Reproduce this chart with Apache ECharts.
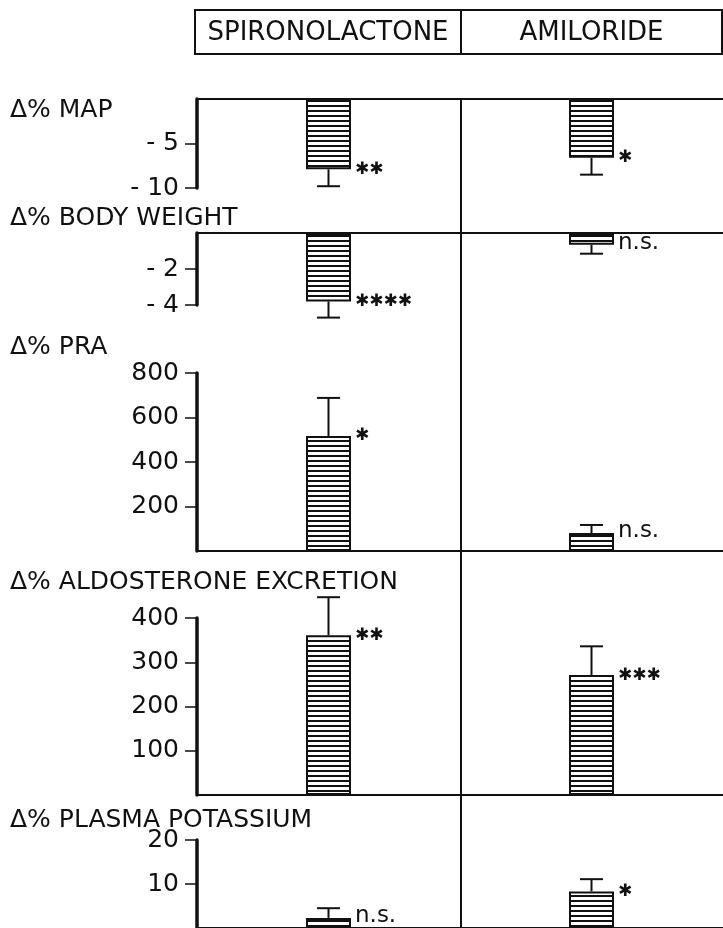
<!DOCTYPE html>
<html>
<head>
<meta charset="utf-8">
<script src="https://cdn.jsdelivr.net/npm/echarts@6/dist/echarts.min.js"></script>
<style>
html,body{margin:0;padding:0;background:#fff;}
#chart{width:723px;height:928px;}
</style>
</head>
<body>
<div id="chart"></div>
<script>
// 药物分组
var drugs = ['SPIRONOLACTONE', 'AMILORIDE'];

// 各指标：均值、标准误、显著性
var mapVals = [-7.9, -6.6];
var mapErr = [1.9, 1.9];
var mapSig = ['✱✱', '✱'];
var mapTicks = [-10, -5];

var bwVals = [-3.8, -0.65];
var bwErr = [0.9, 0.5];
var bwSig = ['✱✱✱✱', 'n.s.'];
var bwTicks = [-4, -2];

var praVals = [517, 81];
var praErr = [171, 36];
var praSig = ['✱', 'n.s.'];
var praTicks = [200, 400, 600, 800];

var aldoVals = [361, 271];
var aldoErr = [86, 65];
var aldoSig = ['✱✱', '✱✱✱'];
var aldoTicks = [100, 200, 300, 400];

var kVals = [2.3, 8.3];
var kErr = [2.2, 2.8];
var kSig = ['n.s.', '✱'];
var kTicks = [10, 20];

var titles = ['Δ% MAP', 'Δ% BODY WEIGHT', 'Δ% PRA', 'Δ% ALDOSTERONE EXCRETION', 'Δ% PLASMA POTASSIUM'];

var FONT = 'DejaVu Sans';
var INK = '#111';

// 版面
var plotLeft = 197, plotWidth = 528;
var panels = [
	{vals: mapVals, err: mapErr, sig: mapSig, ticks: mapTicks, min: -10, max: 0, interval: 5, top: 99, height: 89, titleY: 110},
	{vals: bwVals, err: bwErr, sig: bwSig, ticks: bwTicks, min: -4, max: 0, interval: 2, top: 233, height: 72, titleY: 218},
	{vals: praVals, err: praErr, sig: praSig, ticks: praTicks, min: 0, max: 800, interval: 200, top: 373, height: 178, titleY: 347},
	{vals: aldoVals, err: aldoErr, sig: aldoSig, ticks: aldoTicks, min: 0, max: 400, interval: 100, top: 618, height: 177, titleY: 582},
	{vals: kVals, err: kErr, sig: kSig, ticks: kTicks, min: 0, max: 20, interval: 10, top: 840, height: 94, titleY: 820}
];

//横线填充
function makeHatch(){
	var c = document.createElement('canvas');
	c.width = 6;
	c.height = 5;
	var ctx = c.getContext('2d');
	ctx.fillStyle = '#fff';
	ctx.fillRect(0, 0, 6, 5);
	ctx.fillStyle = INK;
	ctx.fillRect(0, 0, 6, 2);
	return c;
}
var hatch = makeHatch();
var barWidth = 45;

function errRenderer(sig){
	return function(params, api){
		var idx = api.value(0);
		var v = api.value(1);
		var e = api.value(2);
		var end = v < 0 ? v - e : v + e;
		var p0 = api.coord([idx, v]);
		var p1 = api.coord([idx, end]);
		var half = 11.5;
		var isNs = sig[params.dataIndex] === 'n.s.';
		return {
			type: 'group',
			children: [
				{type: 'line', shape: {x1: p0[0], y1: p0[1], x2: p1[0], y2: p1[1]}, style: {stroke: INK, lineWidth: 2}},
				{type: 'line', shape: {x1: p1[0] - half, y1: p1[1], x2: p1[0] + half, y2: p1[1]}, style: {stroke: INK, lineWidth: 2}},
				{type: 'text', x: p0[0] + barWidth / 2 + 4, y: p0[1] + (isNs ? -2 : 0), style: {
					text: sig[params.dataIndex], fill: INK,
					font: (isNs ? '23px ' : '17px ') + '"' + FONT + '"',
					verticalAlign: 'middle', align: 'left'
				}}
			]
		};
	};
}

var grids = [], xAxes = [], yAxes = [], series = [], graphics = [];

var $each = function(arr, fn){ for (var i = 0; i < arr.length; i++) fn(i, arr[i]); };

$each(panels, function(i, p){
	grids.push({left: plotLeft, width: plotWidth, top: p.top, height: p.height});
	xAxes.push({
		type: 'category', gridIndex: i, data: drugs,
		axisLine: {show: true, onZero: true, lineStyle: {color: INK, width: 2}},
		axisTick: {show: false}, axisLabel: {show: false}, splitLine: {show: false}
	});
	yAxes.push({
		type: 'value', gridIndex: i, min: p.min, max: p.max, interval: p.interval,
		axisLine: {show: true, lineStyle: {color: INK, width: 3.5}},
		axisTick: {show: true, length: 12, customValues: p.ticks, lineStyle: {color: INK, width: 1.5}},
		axisLabel: {
			customValues: p.ticks, margin: 18, color: INK, fontFamily: FONT, fontSize: 25,
			formatter: function(v){ return v < 0 ? '- ' + Math.abs(v) : String(v); }
		},
		splitLine: {show: false}
	});
	series.push({
		type: 'bar', xAxisIndex: i, yAxisIndex: i, barWidth: barWidth,
		data: p.vals,
		itemStyle: {color: {image: hatch, repeat: 'repeat'}, borderColor: INK, borderWidth: 2},
		z: 2
	});
	series.push({
		type: 'custom', xAxisIndex: i, yAxisIndex: i, clip: false, z: 3,
		renderItem: errRenderer(p.sig),
		data: p.vals.map(function(v, k){ return [k, v, p.err[k]]; })
	});
	graphics.push({
		type: 'text', x: 10, y: p.titleY,
		style: {text: titles[i], fill: INK, font: '25px "' + FONT + '"', verticalAlign: 'middle'}
	});
});

// 表头
var mid = plotLeft + plotWidth / 2;
graphics.push({type: 'rect', shape: {x: 195, y: 10, width: 527, height: 44}, style: {fill: 'none', stroke: INK, lineWidth: 2}});
graphics.push({type: 'line', shape: {x1: mid, y1: 10, x2: mid, y2: 54}, style: {stroke: INK, lineWidth: 2}});
graphics.push({type: 'text', x: (195 + mid) / 2, y: 33, style: {text: drugs[0], fill: INK, font: '26px "' + FONT + '"', align: 'center', verticalAlign: 'middle'}});
graphics.push({type: 'text', x: (mid + 722) / 2, y: 33, style: {text: drugs[1], fill: INK, font: '26px "' + FONT + '"', align: 'center', verticalAlign: 'middle'}});
// 分隔线
graphics.push({type: 'line', shape: {x1: mid, y1: panels[0].top, x2: mid, y2: 928}, style: {stroke: INK, lineWidth: 2}, z: 10});

var chart = echarts.init(document.getElementById('chart'));
chart.setOption({
	animation: false,
	backgroundColor: '#fff',
	grid: grids,
	xAxis: xAxes,
	yAxis: yAxes,
	series: series,
	graphic: graphics
});
</script>
</body>
</html>
